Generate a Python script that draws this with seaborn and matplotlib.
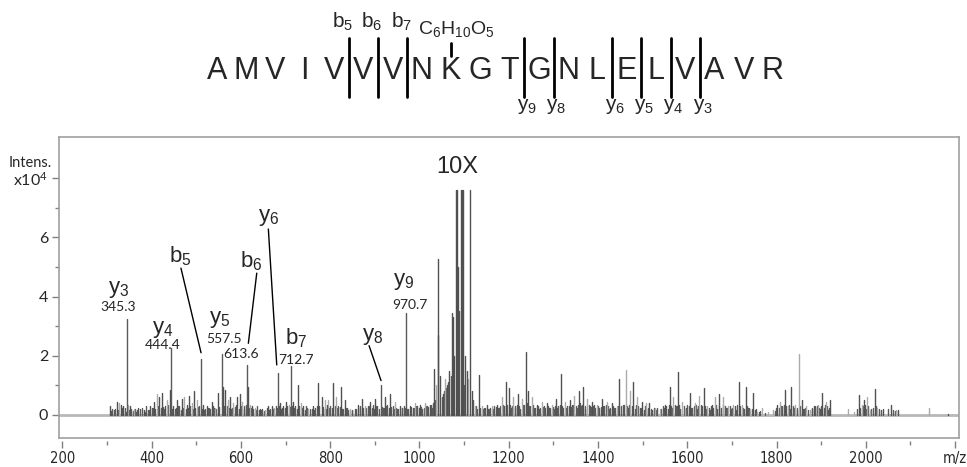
import numpy as np
import pandas as pd
import seaborn as sns
import matplotlib.pyplot as plt

# 肽段序列, 以及碎片离子断裂位置(在第几个残基之后断开)
sequence = list("AMVIVVVNKGTGNLELVAVR")
b_cuts = [5, 6, 7]
b_names = ["b$_5$", "b$_6$", "b$_7$"]
y_cuts = [11, 12, 14, 15, 16, 17]
y_names = ["y$_9$", "y$_8$", "y$_6$", "y$_5$", "y$_4$", "y$_3$"]
glyco_residue = 9  # K 上的 C6H10O5

# 标注的离子峰 (强度单位 x10^4)
ion_mz = [345.3, 444.4, 511.0, 557.5, 613.6, 683.0, 712.7, 914.0, 970.7]
ion_int = [3.23, 2.25, 1.88, 2.05, 1.69, 1.43, 1.65, 1.00, 3.43]

# 其他峰(深灰)
dark_mz = [306.9, 321.9, 330.8, 336.7, 351.7, 370.3, 383, 396.5, 405.5, 417.4, 422.7, 430, 440.6,
           448.7, 457.7, 467.5, 478.7, 484.6, 495.8, 516, 523.5, 534.7, 548.2, 559.3, 564.6, 575.8,
           592.2, 598.2, 615.5, 625.7, 643, 661.6, 669.2, 687.8, 695.2, 701.2, 717.6, 728.8, 740,
           762.4, 773.6, 781, 792, 807, 824.5, 833.5, 863, 870.8, 889.5, 900.7, 923, 934.3, 956.7,
           979, 1001.5, 1023.9, 1033.5, 1041, 1042.5, 1046.3, 1052.3, 1062.7, 1067.2, 1072.5, 1075.4,
           1078.4, 1081.4, 1084.4, 1086.6, 1089.6, 1093.3, 1095.6, 1097.8, 1102.3, 1106, 1113.5,
           1117.3, 1133.7, 1150.9, 1173.3, 1193.5, 1200.9, 1221.8, 1238.3, 1244.2, 1263, 1285.4,
           1306.2, 1317.4, 1337.6, 1358.4, 1367.4, 1386.2, 1408.6, 1431, 1447, 1479, 1498, 1515,
           1550, 1561, 1579, 1605, 1636.7, 1655, 1672, 1715, 1731, 1748, 1801, 1818, 1833, 1857,
           1883, 1902, 1920, 1984, 1996, 2019.6, 2038, 2056, 2073, 2185]
dark_int = [0.3, 0.45, 0.35, 0.3, 0.3, 0.25, 0.15, 0.3, 0.45, 0.6, 0.75, 0.3, 0.85,
            0.3, 0.5, 0.55, 0.35, 0.65, 0.8, 0.35, 0.3, 0.45, 0.75, 0.95, 0.85, 0.6,
            0.6, 0.7, 0.95, 0.3, 0.2, 0.3, 0.3, 0.4, 0.3, 0.45, 0.45, 1.0, 0.3,
            0.3, 1.07, 0.6, 0.35, 1.07, 0.96, 0.5, 0.35, 0.55, 0.45, 0.55, 0.6, 0.7, 0.3,
            0.3, 0.35, 0.35, 1.55, 2.7, 5.27, 1.3, 0.7, 1.0, 1.5, 3.45, 3.3,
            2.0, 7.6, 7.6, 5.0, 3.5, 7.6, 7.6, 7.6, 2.0, 1.5, 7.6,
            0.8, 1.35, 0.35, 0.35, 1.1, 0.9, 0.7, 2.12, 0.8, 0.35, 0.4,
            0.55, 1.39, 0.5, 0.8, 0.95, 0.45, 0.55, 0.4, 1.2, 1.12, 0.45, 0.4,
            0.35, 0.96, 1.44, 0.74, 0.91, 0.35, 0.7, 1.1, 0.93, 0.74, 0.35, 0.85, 0.96, 0.5,
            0.3, 0.74, 0.5, 0.66, 0.5, 0.88, 0.2, 0.35, 0.18, 0.03]

# 其他峰(浅灰)
light_mz = [326, 346.5, 360, 411.5, 433.9, 473.4, 489.9, 501.1, 542.1, 570.6, 583.2, 603.4, 620.6,
            631.8, 654.2, 674.3, 707, 734.2, 751.2, 788.6, 796, 813, 844.7, 878.3, 945.5, 990.3,
            1012.7, 1037.3, 1057.5, 1109.7, 1124.7, 1139.7, 1162.1, 1184.5, 1210.6, 1229.4, 1251.8,
            1274.2, 1296.6, 1326.4, 1347.2, 1376.4, 1397.4, 1419.8, 1442.2, 1462, 1472, 1487, 1507,
            1528, 1539, 1569, 1588, 1595, 1618, 1627, 1645, 1662, 1681, 1692, 1703, 1722, 1741,
            1757, 1767, 1781, 1793, 1808, 1825, 1842, 1849.7, 1866, 1875, 1892, 1910, 1959, 1974,
            1991, 2002, 2010, 2025, 2068, 2142]
light_int = [0.4, 0.35, 0.2, 0.7, 0.5, 0.6, 0.4, 0.5, 0.25, 0.5, 0.4, 0.45, 0.35,
             0.25, 0.15, 0.25, 0.35, 0.4, 0.2, 0.5, 0.5, 0.6, 0.2, 0.3, 0.45, 0.4,
             0.4, 1.0, 1.2, 1.2, 0.3, 0.3, 0.3, 0.6, 0.6, 0.55, 0.6,
             0.45, 0.35, 0.45, 0.65, 0.55, 0.35, 0.45, 0.3, 1.52, 0.8, 0.6, 0.4,
             0.25, 0.2, 0.6, 0.45, 0.2, 0.4, 0.65, 0.3, 0.6, 0.6, 0.3, 0.35, 0.35, 0.2,
             0.1, 0.25, 0.1, 0.15, 0.45, 0.3, 0.35, 2.05, 0.3, 0.15, 0.35, 0.45, 0.2, 0.1,
             0.35, 0.6, 0.15, 0.25, 0.15, 0.25]

# 底部的密集小峰 (m/z, 强度)
floor_peaks = [
    (309, .12), (312, .2), (316, .15), (318, .2), (324, .15), (333, .25), (340, .25), (343, .1),
    (349, .18), (355, .2), (358, .12), (363, .2), (365, .1), (368, .15), (375, .2), (379, .22),
    (386, .1), (388, .3), (392, .15), (394, .18), (400, .25), (403, .25), (408, .2), (414, .3),
    (420, .22), (425, .28), (427, .2), (437, .35), (446, .2), (452, .2), (455, .25), (460, .3),
    (462, .3), (465, .18), (470, .25), (476, .2), (482, .25), (487, .3), (492, .2), (498, .22),
    (503, .28), (506, .3), (513, .2), (518, .15), (520, .2), (526, .25), (528, .25), (531, .2),
    (538, .3), (540, .22), (545, .2), (551, .28), (562, .3), (568, .3), (573, .25), (578, .2),
    (580, .25), (586, .28), (588, .35), (590, .22), (595, .2), (600, .3), (606, .2), (608, .3),
    (611, .35), (618, .25), (623, .25), (628, .2), (634, .18), (636, .3), (640, .15), (646, .15),
    (648, .2), (651, .12), (658, .25), (663, .18), (665, .2), (672, .2), (678, .3), (681, .25),
    (685, .3), (691, .2), (693, .22), (698, .25), (704, .3), (710, .28), (715, .3), (720, .25),
    (722, .3), (725, .2), (731, .3), (737, .22), (743, .18), (745, .3), (748, .25), (756, .2),
    (759, .2), (764, .15), (766, .25), (770, .3), (776, .3), (783, .28), (785, .2), (790, .2),
    (798, .25), (800, .3), (804, .25), (810, .3), (816, .22), (818, .3), (821, .28), (826, .2),
    (828, .2), (836, .25), (838, .25), (841, .15), (848, .12), (850, .15), (855, .2), (858, .2),
    (866, .25), (868, .3), (874, .25), (881, .22), (884, .3), (887, .3), (893, .25), (895, .35),
    (898, .2), (903, .3), (905, .3), (910, .2), (916, .28), (918, .25), (921, .22), (926, .3),
    (928, .35), (932, .25), (937, .28), (940, .3), (943, .2), (948, .25), (950, .2), (953, .2),
    (960, .22), (962, .25), (966, .3), (968, .25), (973, .2), (975, .2), (982, .28), (985, .25),
    (988, .22), (993, .3), (995, .3), (998, .25), (1004, .28), (1006, .2), (1010, .22), (1015, .3),
    (1018, .3), (1020, .28), (1026, .35), (1028, .25), (1031, .4), (1036, .5), (1050, .6), (1055, .8),
    (1060, .9), (1065, 1.1), (1070, 1.3), (1100, 1.0), (1120, .5), (1127, .3), (1130, .2), (1136, .25),
    (1142, .2), (1145, .25), (1148, .25), (1153, .2), (1155, .2), (1159, .25), (1165, .2), (1168, .3),
    (1171, .28), (1176, .22), (1178, .25), (1181, .3), (1187, .35), (1189, .3), (1195, .3), (1197, .35),
    (1203, .35), (1205, .25), (1208, .3), (1213, .25), (1215, .3), (1218, .35), (1223, .3), (1225, .2),
    (1232, .35), (1234, .35), (1241, .4), (1246, .3), (1248, .3), (1254, .35), (1257, .25), (1260, .25),
    (1266, .3), (1268, .2), (1271, .22), (1277, .28), (1279, .3), (1282, .25), (1288, .3), (1290, .25),
    (1293, .22), (1299, .28), (1301, .2), (1304, .3), (1309, .25), (1311, .3), (1314, .35), (1320, .3),
    (1322, .25), (1328, .25), (1331, .3), (1334, .3), (1340, .28), (1342, .35), (1345, .35), (1350, .3),
    (1352, .25), (1355, .35), (1360, .4), (1362, .3), (1365, .35), (1370, .3), (1372, .2), (1379, .35),
    (1381, .3), (1384, .28), (1389, .3), (1391, .35), (1394, .25), (1400, .3), (1403, .25), (1406, .28),
    (1411, .3), (1414, .3), (1417, .35), (1422, .3), (1425, .2), (1428, .25), (1433, .3), (1436, .25),
    (1439, .22), (1444, .3), (1452, .3), (1455, .35), (1458, .35), (1465, .3), (1467, .25), (1470, .35),
    (1476, .3), (1483, .2), (1485, .35), (1490, .3), (1493, .25), (1496, .25), (1502, .15), (1505, .3),
    (1511, .2), (1513, .25), (1518, .2), (1520, .15), (1525, .22), (1531, .18), (1533, .25), (1542, .2),
    (1545, .3), (1548, .25), (1553, .3), (1556, .2), (1559, .35), (1563, .3), (1565, .25), (1572, .35),
    (1574, .3), (1577, .3), (1582, .35), (1584, .2), (1592, .3), (1598, .25), (1600, .35), (1603, .3),
    (1608, .25), (1610, .25), (1615, .3), (1620, .35), (1622, .2), (1625, .3), (1630, .35), (1632, .3),
    (1639, .3), (1641, .2), (1648, .25), (1650, .15), (1653, .3), (1658, .25), (1665, .35), (1667, .2),
    (1670, .3), (1676, .25), (1679, .35), (1684, .3), (1686, .25), (1689, .25), (1695, .3), (1697, .2),
    (1700, .25), (1706, .3), (1709, .15), (1712, .35), (1718, .3), (1725, .25), (1727, .2), (1733, .3),
    (1736, .25), (1739, .25), (1745, .2), (1751, .15), (1753, .2), (1760, .1), (1763, .12), (1773, .08),
    (1796, .12), (1798, .25), (1805, .25), (1811, .3), (1813, .3), (1816, .35), (1821, .3), (1827, .35),
    (1829, .2), (1836, .3), (1838, .25), (1845, .25), (1846, .15), (1853, .3), (1859, .2), (1861, .2),
    (1864, .25), (1870, .15), (1879, .25), (1880, .2), (1885, .25), (1887, .3), (1890, .3), (1895, .25),
    (1897, .2), (1900, .3), (1906, .25), (1908, .35), (1913, .3), (1915, .15), (1918, .25), (1981, .2),
    (1988, .25), (1993, .3), (1998, .35), (2000, .2), (2005, .3), (2012, .2), (2015, .25), (2022, .3),
    (2030, .2), (2035, .15), (2050, .2), (2060, .15), (2065, .12),
]
floor_mz = [p[0] for p in floor_peaks]
floor_int = [p[1] for p in floor_peaks]

# 组装成长表: 每个峰两个点 (mz,0)->(mz,h)
rows = []
pid = 0
for shade, mzs, ints in [("floor", floor_mz, floor_int), ("light", light_mz, light_int),
                         ("dark", dark_mz, dark_int), ("ion", ion_mz, ion_int)]:
    for m, h in zip(mzs, ints):
        rows.append((pid, shade, m, 0.0))
        rows.append((pid, shade, m, h))
        pid += 1
df = pd.DataFrame(rows, columns=["peak", "shade", "mz", "intens"])

sns.set_theme(style="white")
plt.rcParams["font.family"] = ["Liberation Sans", "DejaVu Sans"]
plt.rcParams["mathtext.default"] = "regular"

W, H = 967, 467
fig = plt.figure(figsize=(W / 100, H / 100), dpi=100)


def fx(x, y):
    return x / W, 1 - y / H


ax = fig.add_axes([59.3 / W, (H - 438.3) / H, (958.7 - 59.3) / W, (438.3 - 136.7) / H])
ax.axhline(0, color="#b8b8b8", lw=2, zorder=0)
sns.lineplot(data=df, x="mz", y="intens", units="peak", hue="shade", estimator=None, sort=False,
             palette={"floor": "#5a5a5a", "light": "#ababab", "dark": "#505050", "ion": "#5a5a5a"},
             hue_order=["floor", "light", "dark", "ion"], linewidth=1, legend=False, ax=ax)
ax.set_xlim(193.3, 2208)
ax.set_ylim(-0.79, 9.40)
ax.set_xlabel("")
ax.set_ylabel("")

# 坐标轴
for s in ax.spines.values():
    s.set_color("#a0a0a0")
    s.set_linewidth(1.2)
ax.spines["bottom"].set_position(("outward", 2))
ax.spines["bottom"].set_visible(False)
ax.plot([0, 1], [0, 0], transform=ax.transAxes, color="#a0a0a0", lw=1.2, clip_on=False)

ax.set_xticks(list(range(200, 2201, 200)))
ax.set_xticklabels([str(v) for v in range(200, 2001, 200)] + ["m/z"],
                   family=["DejaVu Sans"], fontstretch="condensed", fontsize=10.5)
ax.set_xticks(list(range(300, 2200, 200)), minor=True)
ax.set_yticks([0, 2, 4, 6, 8])
ax.set_yticklabels(["0", "2", "4", "6", "x10$^4$"], family=["Lato", "DejaVu Sans"], fontsize=11.5)
ax.set_yticks([1, 3, 5, 7], minor=True)
ax.tick_params(axis="both", which="major", direction="out", length=5, width=1, color="#808080",
               bottom=True, left=True, pad=3)
ax.tick_params(axis="both", which="minor", direction="out", length=3, width=1, color="#808080",
               bottom=True, left=True)
ax.tick_params(axis="x", which="major", pad=2)
fig.text(*fx(52, 163), "Intens.", ha="right", va="center", fontsize=10.5, family=["Lato", "DejaVu Sans"])

# 谱图上的离子标注
lab = dict(ha="center", va="center", fontsize=16)
num = dict(ha="center", va="center", fontsize=10, family=["Lato", "DejaVu Sans"])
ax.text(325.7, 4.25, "y$_3$", **lab)
ax.text(325.7, 3.64, "345.3", **num)
ax.text(424, 2.9, "y$_4$", **lab)
ax.text(424, 2.36, "444.4", **num)
ax.text(463.8, 5.37, "b$_5$", **lab)
ax.plot([465.8, 510.8], [4.96, 2.1], color="black", lw=1)
ax.text(553.4, 3.23, "y$_5$", **lab)
ax.text(562, 2.56, "557.5", **num)
ax.text(624, 5.21, "b$_6$", **lab)
ax.plot([635.6, 616.8], [4.79, 2.42], color="black", lw=1)
ax.text(600.6, 2.06, "613.6", **num)
ax.text(661.6, 6.68, "y$_6$", **lab)
ax.plot([661.6, 680.4], [6.28, 1.69], color="black", lw=1)
ax.text(723.6, 2.59, "b$_7$", **lab)
ax.text(724.4, 1.86, "712.7", **num)
ax.text(895.5, 2.65, "y$_8$", **lab)
ax.plot([887.2, 914], [2.34, 1.16], color="black", lw=1)
ax.text(964, 4.5, "y$_9$", **lab)
ax.text(977.5, 3.72, "970.7", **num)
ax.text(1083.7, 8.39, "10X", ha="center", va="center", fontsize=17)

# 顶部的肽段序列示意
x0, x1, yseq = 217, 773, 71
step = (x1 - x0) / (len(sequence) - 1)
for i, aa in enumerate(sequence):
    fig.text(*fx(x0 + i * step, yseq), aa, ha="center", va="center", fontsize=22)
for cut, name in zip(b_cuts, b_names):
    xc = x0 + (cut - 0.5) * step
    fig.add_artist(plt.Line2D([xc / W] * 2, [1 - 38 / H, 1 - 97 / H], color="black", lw=2))
    fig.text(*fx(xc - 6, 22), name, ha="center", va="center", fontsize=15)
for cut, name in zip(y_cuts, y_names):
    xc = x0 + (cut - 0.5) * step
    fig.add_artist(plt.Line2D([xc / W] * 2, [1 - 38 / H, 1 - 97 / H], color="black", lw=2))
    fig.text(*fx(xc + 3, 107), name, ha="center", va="center", fontsize=15)
xk = x0 + (glyco_residue - 1) * step
fig.add_artist(plt.Line2D([xk / W] * 2, [1 - 43 / H, 1 - 56 / H], color="black", lw=2))
fig.text(*fx(xk + 5, 29), "C$_6$H$_{10}$O$_5$", ha="center", va="center", fontsize=14)

fig.savefig("out.png", dpi=100)
